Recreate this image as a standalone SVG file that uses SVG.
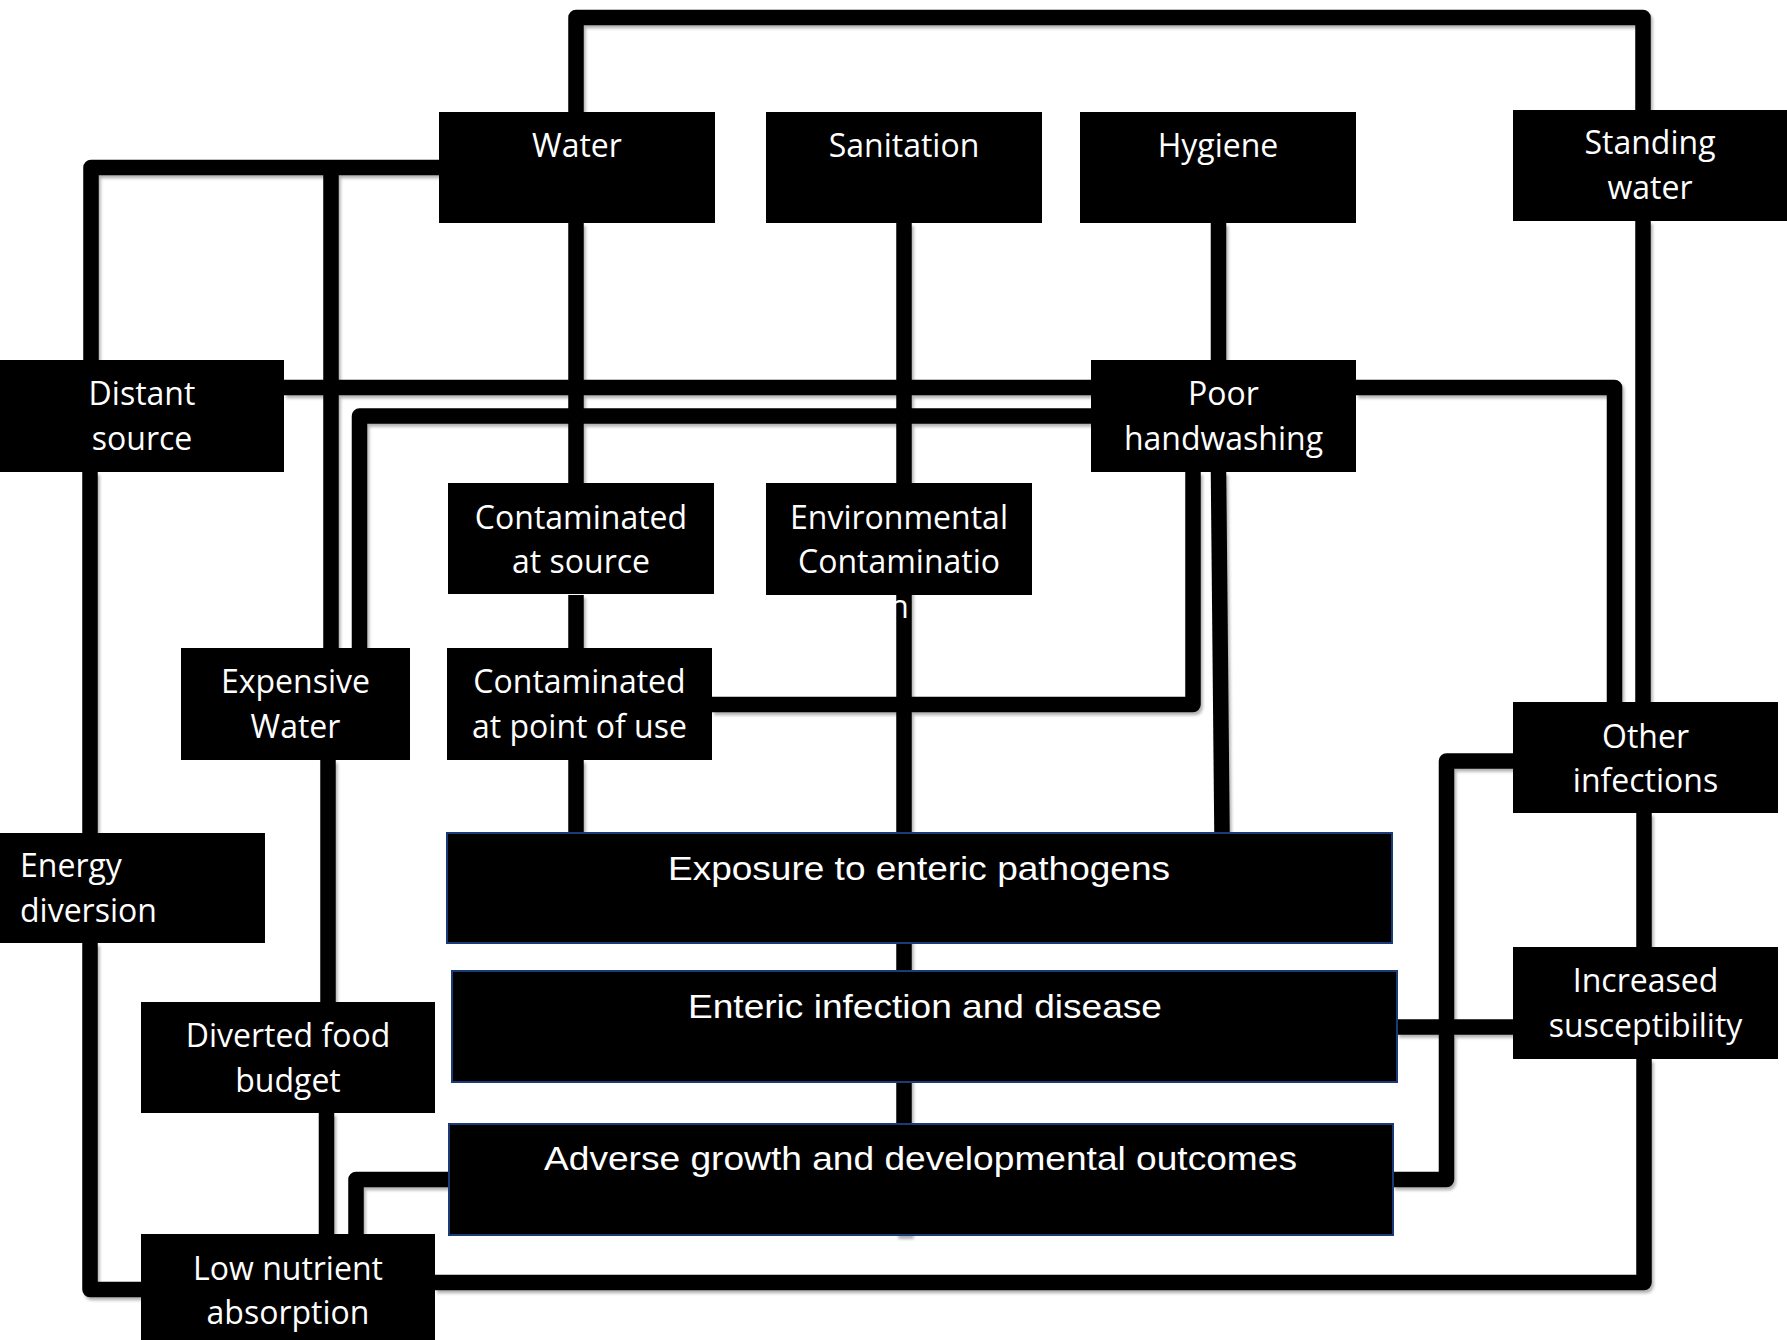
<svg xmlns="http://www.w3.org/2000/svg" width="1787" height="1340" viewBox="0 0 1787 1340">
<style>
.bg{fill:#ffffff}
.box{fill:#000000}
.big{fill:#000000;stroke:#1a3a78;stroke-width:2}
.lbl{font-family:"Open Sans","Noto Sans",sans-serif;font-size:32px;fill:#ffffff;text-anchor:middle}
.lft{text-anchor:start}
.blbl{font-family:"Liberation Sans",Arial,sans-serif;font-size:34px;fill:#ffffff}
.ln{fill:none;stroke:#000000;stroke-width:15.5;stroke-linejoin:round;stroke-linecap:butt}
</style>
<defs>
<filter id="sh" x="-5%" y="-5%" width="110%" height="110%">
<feDropShadow dx="2" dy="3" stdDeviation="1.5" flood-color="#000000" flood-opacity="0.3"/>
</filter>
</defs>
<rect class="bg" x="0" y="0" width="1787" height="1340"/>
<g id="connectors" filter="url(#sh)">
<path class="ln" d="M576,112 V17.5 H1643 V110"/>
<path class="ln" d="M439,167.5 H91 V360"/>
<path class="ln" d="M331,167.5 V648"/>
<path class="ln" d="M284,387.5 H1091"/>
<path class="ln" d="M1091,416 H359.5 V648"/>
<path class="ln" d="M1356,387.5 H1614.5 V702"/>
<path class="ln" d="M1643,221 V702"/>
<path class="ln" d="M1644,813 V947"/>
<path class="ln" d="M1644,1059 V1282.5 H435"/>
<path class="ln" d="M576,223 V483"/>
<path class="ln" d="M576,595 V648"/>
<path class="ln" d="M576,760 V833"/>
<path class="ln" d="M904,223 V1236"/>
<path class="ln" d="M1218.5,223 V360"/>
<path class="ln" d="M1218.5,472 L1222,833"/>
<path class="ln" d="M712,704.5 H1193 V472"/>
<path class="ln" d="M1513,761 H1446.5 V1179.5 H1393"/>
<path class="ln" d="M1397,1027 H1513"/>
<path class="ln" d="M90,472 V833"/>
<path class="ln" d="M90,943 V1289.5 H141"/>
<path class="ln" d="M328,760 V1002"/>
<path class="ln" d="M326.5,1113 V1234"/>
<path class="ln" d="M449,1179.5 H356 V1234"/>
</g>
<g id="water">
<rect class="box" x="439" y="112" width="276" height="111"/>
<text class="lbl" x="577" y="157">Water</text>
</g>
<g id="sanitation">
<rect class="box" x="766" y="112" width="276" height="111"/>
<text class="lbl" x="904" y="157">Sanitation</text>
</g>
<g id="hygiene">
<rect class="box" x="1080" y="112" width="276" height="111"/>
<text class="lbl" x="1218" y="157">Hygiene</text>
</g>
<g id="standing-water">
<rect class="box" x="1513" y="110" width="274" height="111"/>
<text class="lbl" x="1650" y="154">Standing</text>
<text class="lbl" x="1650" y="199">water</text>
</g>
<g id="distant-source">
<rect class="box" x="0" y="360" width="284" height="112"/>
<text class="lbl" x="142" y="405">Distant</text>
<text class="lbl" x="142" y="450">source</text>
</g>
<g id="poor-handwashing">
<rect class="box" x="1091" y="360" width="265" height="112"/>
<text class="lbl" x="1223.5" y="405">Poor</text>
<text class="lbl" x="1223.5" y="450">handwashing</text>
</g>
<g id="contaminated-source">
<rect class="box" x="448" y="483" width="266" height="111"/>
<text class="lbl" x="581" y="529">Contaminated</text>
<text class="lbl" x="581" y="573">at source</text>
</g>
<g id="environmental-contamination">
<rect class="box" x="766" y="483" width="266" height="112"/>
<text class="lbl" x="899" y="529">Environmental</text>
<text class="lbl" x="899" y="573">Contaminatio</text>
<text class="lbl" x="899" y="618">n</text>
</g>
<g id="expensive-water">
<rect class="box" x="181" y="648" width="229" height="112"/>
<text class="lbl" x="295.5" y="693">Expensive</text>
<text class="lbl" x="295.5" y="738">Water</text>
</g>
<g id="contaminated-point-of-use">
<rect class="box" x="447" y="648" width="265" height="112"/>
<text class="lbl" x="579.5" y="693">Contaminated</text>
<text class="lbl" x="579.5" y="738">at point of use</text>
</g>
<g id="energy-diversion">
<rect class="box" x="0" y="833" width="265" height="110"/>
<text class="lbl lft" x="20" y="877">Energy</text>
<text class="lbl lft" x="20" y="922">diversion</text>
</g>
<g id="exposure">
<rect class="big" x="447" y="833" width="945" height="110"/>
<text class="blbl" x="668" y="880" textLength="502" lengthAdjust="spacingAndGlyphs">Exposure to enteric pathogens</text>
</g>
<g id="other-infections">
<rect class="box" x="1513" y="702" width="265" height="111"/>
<text class="lbl" x="1645.5" y="748">Other</text>
<text class="lbl" x="1645.5" y="792">infections</text>
</g>
<g id="enteric-infection">
<rect class="big" x="452" y="971" width="945" height="111"/>
<text class="blbl" x="688" y="1018" textLength="474" lengthAdjust="spacingAndGlyphs">Enteric infection and disease</text>
</g>
<g id="increased-susceptibility">
<rect class="box" x="1513" y="947" width="265" height="112"/>
<text class="lbl" x="1645.5" y="992">Increased</text>
<text class="lbl" x="1645.5" y="1037">susceptibility</text>
</g>
<g id="diverted-food-budget">
<rect class="box" x="141" y="1002" width="294" height="111"/>
<text class="lbl" x="288" y="1047">Diverted food</text>
<text class="lbl" x="288" y="1092">budget</text>
</g>
<g id="adverse-outcomes">
<rect class="big" x="449" y="1124" width="944" height="111"/>
<text class="blbl" x="544" y="1170" textLength="753" lengthAdjust="spacingAndGlyphs">Adverse growth and developmental outcomes</text>
</g>
<g id="low-nutrient-absorption">
<rect class="box" x="141" y="1234" width="294" height="110"/>
<text class="lbl" x="288" y="1280">Low nutrient</text>
<text class="lbl" x="288" y="1324">absorption</text>
</g>
</svg>
